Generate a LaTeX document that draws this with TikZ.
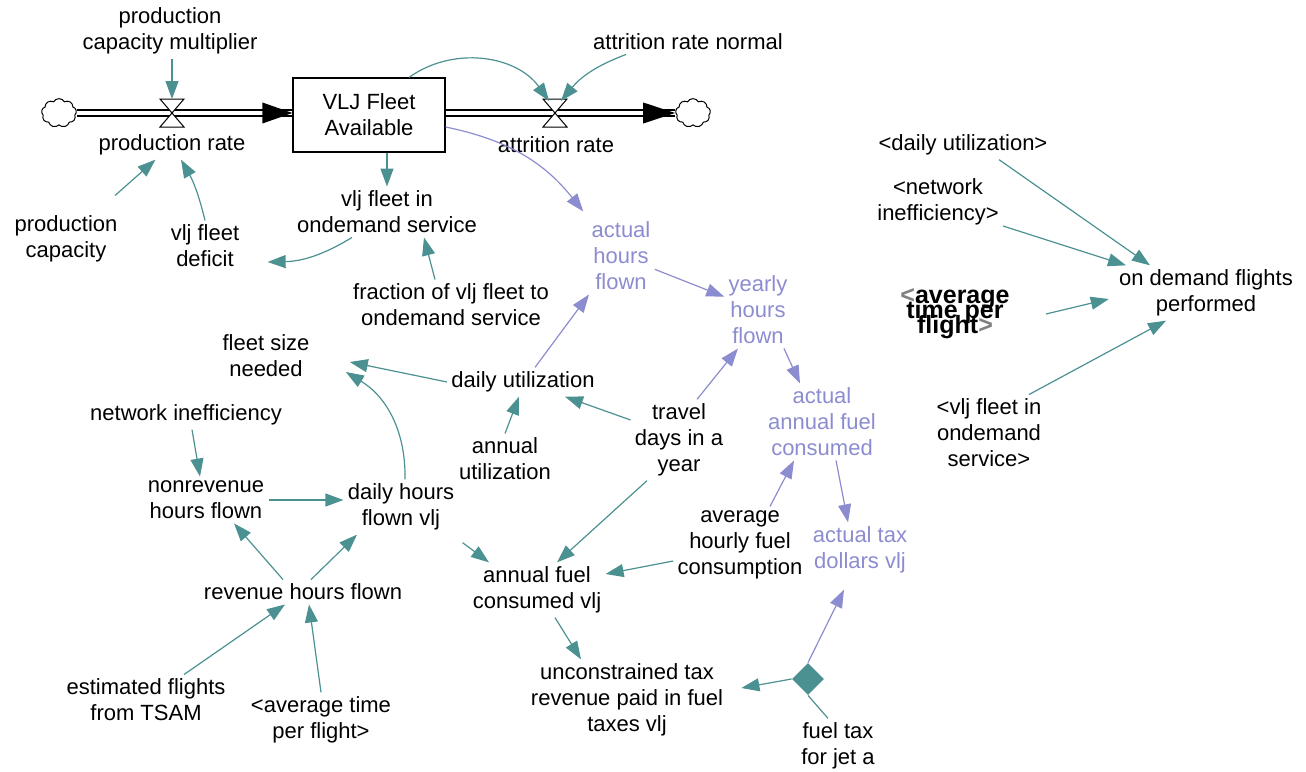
\documentclass[tikz,border=0pt]{standalone}
\usepackage{fontspec}
\setmainfont{Liberation Sans}
\usetikzlibrary{arrows.meta,positioning,shapes.geometric,shapes.symbols}
\definecolor{linkteal}{RGB}{76,145,145}
\definecolor{shadowblue}{RGB}{140,140,208}
\newcommand\tightlines{\lineskiplimit=-20pt\relax}
\tikzset{var/.style={align=center, inner sep=2pt, font=\fontsize{11}{13}\selectfont},
         auxvar/.style={var, text=shadowblue},
         link/.style={draw=linkteal, line width=0.6pt, -{Triangle[length=9pt,width=6.5pt]}},
         auxlink/.style={link, draw=shadowblue},
         pipe/.style={double, double distance=2.4pt, line width=0.6pt},
         sourcesink/.style={cloud, draw, cloud puffs=9, cloud puff arc=120, cloud ignores aspect,
           minimum width=14pt, minimum height=11.5pt, inner sep=0pt, line width=0.5pt,
           transform shape, scale=1.25},
         valve/.pic={\draw[fill=white, line width=0.5pt]
           (-6pt,7pt) -- (6pt,7pt) -- (-6pt,-7pt) -- (6pt,-7pt) -- cycle;}}

\begin{document}
\begin{tikzpicture}[x=0.5pt, y=-0.5pt]
  \useasboundingbox (0,0) rectangle (1306,771);
  \node[sourcesink] (srcL) at (59,113) {};
  \node[sourcesink] (sinkR) at (693,113) {};
  \node[var, draw, line width=0.6pt, minimum width=76pt, minimum height=37pt] (fleet) at (369,115) {VLJ Fleet\\Available};
  \coordinate (prodv) at (172,113);
  \coordinate (attrv) at (555,113);
  \draw[pipe] (srcL.east) -- (fleet.west |- srcL.east);
  \fill (fleet.west |- srcL.east) -- ++(-30,-10.5) -- ++(0,21) -- cycle;
  \draw[pipe] (fleet.east |- sinkR.west) -- (sinkR.west);
  \fill (sinkR.west) -- ++(-32,-10.5) -- ++(0,21) -- cycle;
  \pic at (prodv) {valve};
  \pic at (attrv) {valve};

  \node[var] (pcm) at (170,31) {production\\capacity multiplier};
  \node[var] (prodrate) at (172,145) {production rate};
  \node[var] (attrrate) at (556,145) {attrition rate};
  \node[var] (attrnorm) at (688,42) {attrition rate normal};
  \node[var] (inservice) at (387,212) {vlj fleet in\\ondemand service};
  \node[var] (deficit) at (205,246) {vlj fleet\\deficit};
  \node[var] (pcap) at (66,239) {production\\capacity};
  \node[var] (fraction) at (451,305) {fraction of vlj fleet to\\ondemand service};
  \node[auxvar] (hours) at (621,256) {actual\\hours\\flown};
  \node[auxvar] (yearly) at (758,310) {yearly\\hours\\flown};
  \node[var] (sizeneeded) at (266,356) {fleet size\\needed};
  \node[var] (dailyutil) at (523,382) {daily utilization};
  \node[var] (netineff) at (186,415) {network inefficiency};
  \node[var] (travel) at (679,440) {travel\\days in a\\year};
  \node[var] (annutil) at (505,459) {annual\\utilization};
  \node[auxvar] (annfuel) at (822,422) {actual\\annual fuel\\consumed};
  \node[var] (nonrev) at (206,500) {nonrevenue\\hours flown};
  \node[var] (dailyhrs) at (401,507) {daily hours\\flown vlj};
  \node[var] (hourlyfuel) at (740,545) {average\\hourly fuel\\consumption};
  \node[auxvar] (taxdollars) at (860,550) {actual tax\\dollars vlj};
  \node[var] (revenue) at (303,592) {revenue hours flown};
  \node[var] (fuelvlj) at (537,590) {annual fuel\\consumed vlj};
  \node[var] (untax) at (627,700) {unconstrained tax\\revenue paid in fuel\\taxes vlj};
  \node[diamond, fill=linkteal, minimum size=16pt, inner sep=0pt] (taxgate) at (808,679) {};
  \node[var] (jeta) at (838,746) {fuel tax\\for jet a};
  \node[var] (tsam) at (146,700) {estimated flights\\from TSAM};
  \node[var] (avgtime) at (321,720) {<average time\\per flight>};
  \node[var] (odutil) at (963,145) {<daily utilization>};
  \node[var] (odnet) at (938,202) {<network\\inefficiency>};
  \node[align=center, inner sep=2pt, font={\bfseries\fontsize{12.5}{7.5}\selectfont\tightlines}] (odavg) at (955,314)
    {\textcolor{gray}{<}average\\time per\\flight\textcolor{gray}{>}};
  \node[var] (odflights) at (1206,293) {on demand flights\\performed};
  \node[var] (odfleet) at (989,433) {<vlj fleet in\\ondemand\\service>};

  \draw[link, shorten >=7pt] (pcm.south -| prodv) -- (prodv);
  \draw[link, shorten <=12pt] (pcap) -- (prodrate);
  \draw[link] (deficit.north) to[bend right=8] (prodrate);
  \draw[link] (fleet.south -| inservice.north) -- (inservice.north);
  \draw[link] ([xshift=-17.5pt]inservice.south) to[bend left=15] ([shift={(12pt,-8pt)}]deficit.east);
  \draw[link] ([xshift=-8pt]fraction.north) -- ([xshift=18.5pt]inservice.south);
  \draw[auxlink] ([yshift=-6pt]fleet.east) to[bend left=20] ([xshift=-2pt,yshift=3pt]hours.north west);
  \draw[link] ([xshift=20pt]fleet.north) to[bend left=45] ([xshift=-3pt,yshift=6pt]attrv);
  \draw[link] ([xshift=-31pt]attrnorm.south) to[bend right=15] ([xshift=3pt,yshift=6pt]attrv);
  \draw[auxlink] (hours) -- (yearly);
  \draw[auxlink] ([xshift=6pt]dailyutil.north) -- ([xshift=-16pt]hours.south);
  \draw[auxlink] ([xshift=13pt]yearly.south) -- ([xshift=-11pt]annfuel.north);
  \draw[auxlink] ([xshift=9pt]travel.north) -- ([xshift=-10pt]yearly.south);
  \draw[link] (dailyutil.west) -- ([shift={(18pt,-3pt)}]sizeneeded.east);
  \draw[link] ([xshift=2pt]dailyhrs.north) to[bend right=30] ([shift={(16pt,-8pt)}]sizeneeded.east);
  \draw[link] (annutil.north) -- ([xshift=-2pt]dailyutil.south);
  \draw[link] ([yshift=10pt]travel.west) -- ([xshift=21pt]dailyutil.south);
  \draw[link] ([xshift=-16pt]travel.south) -- ([xshift=10pt]fuelvlj.north);
  \draw[link] ([xshift=3pt]netineff.south) -- ([xshift=-3pt]nonrev.north);
  \draw[link] (nonrev.east) -- (dailyhrs.west |- nonrev.east);
  \draw[link] ([xshift=-10pt]revenue.north) -- ([xshift=14pt]nonrev.south);
  \draw[link] ([xshift=4pt]revenue.north) -- ([xshift=-22pt]dailyhrs.south);
  \draw[link] ([shift={(2pt,-4pt)}]dailyhrs.south east) -- ([xshift=-24pt]fuelvlj.north);
  \draw[link] ([xshift=19pt]tsam.north) -- ([xshift=-9pt]revenue.south);
  \draw[link] (avgtime.north) -- ([xshift=3pt]revenue.south);
  \draw[link] ([yshift=-8pt]hourlyfuel.west) -- ([yshift=8pt]fuelvlj.east);
  \draw[auxlink] ([xshift=7pt]annfuel.south) -- ([xshift=-6pt]taxdollars.north);
  \draw[auxlink] ([xshift=15pt]hourlyfuel.north) -- ([xshift=-14pt]annfuel.south);
  \draw[link] ([xshift=9pt]fuelvlj.south) -- ([xshift=-23pt]untax.north);
  \draw[auxlink] (taxgate.north) -- ([shift={(-8pt,-6pt)}]taxdollars.south);
  \draw[link] (taxgate.west) -- ([shift={(7pt,6pt)}]untax.east);
  \draw[linkteal, line width=0.6pt] ([xshift=-5pt]jeta.north) -- (taxgate.south);
  \draw[link] ([xshift=18pt]odutil.south) -- ([xshift=-28pt]odflights.north);
  \draw[link] ([yshift=-12pt]odnet.east) -- ([xshift=-40pt]odflights.north);
  \draw[link] ([xshift=16pt]odavg.east) -- ([shift={(-3pt,-3pt)}]odflights.west);
  \draw[link] ([xshift=20pt]odfleet.north) -- ([xshift=-20pt]odflights.south);
\end{tikzpicture}
\end{document}
